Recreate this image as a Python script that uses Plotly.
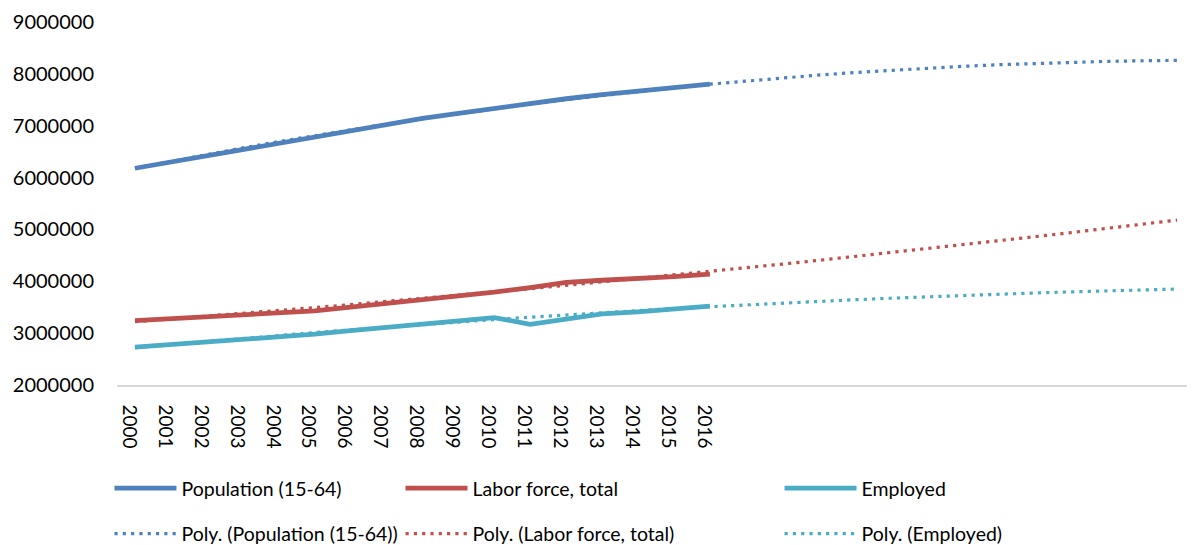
import plotly.graph_objects as go

years = list(range(2000, 2017))
trend_years = list(range(2000, 2030))

population = [6180000, 6300000, 6420000, 6550000, 6670000, 6790000, 6910000, 7030000, 7140000,
              7240000, 7340000, 7430000, 7520000, 7600000, 7670000, 7740000, 7800000]
labor_force = [3240000, 3280000, 3310000, 3350000, 3390000, 3430000, 3500000, 3570000, 3650000,
               3720000, 3790000, 3880000, 3980000, 4020000, 4050000, 4090000, 4140000]
employed = [2730000, 2780000, 2810000, 2860000, 2910000, 2980000, 3050000, 3110000, 3190000,
            3240000, 3300000, 3170000, 3280000, 3370000, 3410000, 3470000, 3520000]

# Polynomial trendlines (2000-2029)
population_trend = [6180000, 6315000, 6446000, 6572000, 6694000, 6811000, 6924000, 7032000, 7136000, 7234000,
                    7329000, 7419000, 7504000, 7585000, 7662000, 7733000, 7801000, 7863000, 7921000, 7975000,
                    8024000, 8068000, 8108000, 8144000, 8175000, 8201000, 8223000, 8240000, 8252000, 8260000]
labor_trend = [3220000, 3272000, 3326000, 3381000, 3437000, 3493000, 3551000, 3610000, 3670000, 3731000,
               3794000, 3857000, 3921000, 3987000, 4053000, 4121000, 4189000, 4259000, 4330000, 4402000,
               4475000, 4549000, 4624000, 4700000, 4778000, 4856000, 4935000, 5016000, 5098000, 5180000]
employed_trend = [2720000, 2781000, 2841000, 2899000, 2956000, 3011000, 3064000, 3116000, 3166000, 3215000,
                  3262000, 3307000, 3351000, 3393000, 3434000, 3473000, 3510000, 3546000, 3580000, 3612000,
                  3643000, 3673000, 3701000, 3727000, 3751000, 3774000, 3795000, 3815000, 3833000, 3850000]

names = ["Population (15-64)", "Labor force, total", "Employed"]
colors = ["#4F81BD", "#C0504D", "#4BACC6"]
series = [population, labor_force, employed]
trends = [population_trend, labor_trend, employed_trend]
legend_ids = ["legend", "legend2", "legend3"]

FONT = "Lato"

fig = go.Figure()
for name, col, vals, lg in zip(names, colors, series, legend_ids):
    fig.add_trace(go.Scatter(x=years, y=vals, mode="lines", name=name,
                             line=dict(color=col, width=4.8), legend=lg, legendgroup=name))
for name, col, vals, lg in zip(names, colors, trends, legend_ids):
    fig.add_trace(go.Scatter(x=trend_years, y=vals, mode="lines", name=f"Poly. ({name})",
                             line=dict(color=col, width=3.2, dash="3.2px,5.1px"), legend=lg,
                             legendgroup="poly " + name))

legend_common = dict(orientation="v", yanchor="top", y=-0.2315, xanchor="left",
                     font=dict(family=FONT, size=19.5, color="#000000"),
                     tracegroupgap=17, bgcolor="rgba(0,0,0,0)")
fig.update_layout(
    width=1195, height=600,
    margin=dict(l=109, r=8, t=14, b=223),
    paper_bgcolor="white", plot_bgcolor="white",
    showlegend=True,
    legend=dict(x=-0.007, itemwidth=62, **legend_common),
    legend2=dict(x=0.263, itemwidth=62, **legend_common),
    legend3=dict(x=0.6146, itemwidth=72, **legend_common),
    xaxis=dict(range=[1999.5, 2029.5], tickvals=years, ticktext=[str(y) for y in years],
               tickangle=90, showgrid=False, zeroline=False, showline=True,
               linecolor="#D9D9D9", linewidth=1.5, ticks="", automargin=False,
               tickfont=dict(family=FONT, size=19, color="#000000"),
               ticklabelstandoff=14, ticklabelshift=-6),
    yaxis=dict(range=[2000000, 9000000], dtick=1000000, tickformat="d",
               showgrid=False, zeroline=False, showline=False, ticks="", automargin=False,
               tickfont=dict(family=FONT, size=20, color="#000000"),
               ticklabelstandoff=22),
)

fig.write_html("out.html")
